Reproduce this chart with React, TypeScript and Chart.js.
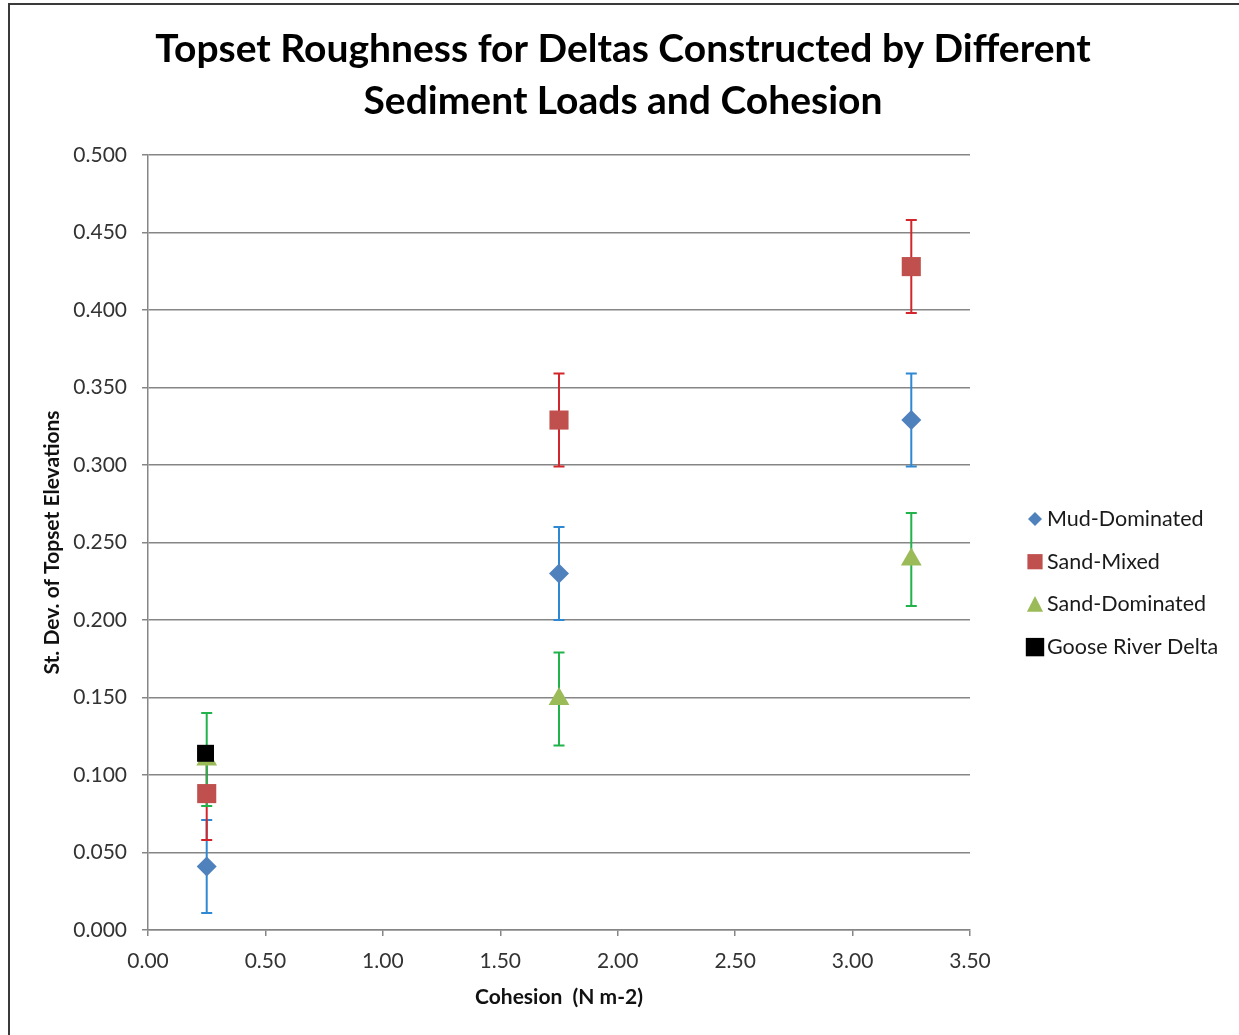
import React, { useEffect, useRef } from 'react';
import { Chart, registerables } from 'chart.js';

Chart.register(...registerables);

const titleLines = ['Topset Roughness for Deltas Constructed by Different', 'Sediment Loads and Cohesion'];
const xAxisTitle = 'Cohesion  (N m-2)';
const yAxisTitle = 'St. Dev. of Topset Elevations';

const seriesLabels = ['Mud-Dominated', 'Sand-Mixed', 'Sand-Dominated', 'Goose River Delta'];
const cohesion = [0.25, 1.75, 3.25];
const mudValues = [0.041, 0.230, 0.329];
const mudErrors = [0.03, 0.03, 0.03];
const sandMixedValues = [0.088, 0.329, 0.428];
const sandMixedErrors = [0.03, 0.03, 0.03];
const sandDominatedValues = [0.110, 0.149, 0.239];
const sandDominatedErrors = [0.03, 0.03, 0.03];
const gooseCohesion = [0.245];
const gooseValues = [0.114];

const xMin = 0;
const xMax = 3.5;
const xStep = 0.5;
const yMin = 0;
const yMax = 0.5;
const yStep = 0.05;

const markerColors = ['#4f81bd', '#c0504d', '#9bbb59', '#000000'];
const errorColors = ['#2f88d2', '#d3262c', '#22b24c', ''];
const pointStyles = ['rectRot', 'rect', 'triangle', 'rect'];
const pointRadii = [10, 13.5, 12, 12];

const FONT = 'Lato, "Open Sans", sans-serif';

const toPoints = (xs: number[], ys: number[]) => xs.map((x, i) => ({ x, y: ys[i] }));

const errorBarPlugin = {
  id: 'errorBars',
  beforeDatasetsDraw(chart: any) {
    const errs = [mudErrors, sandMixedErrors, sandDominatedErrors, null];
    const ctx = chart.ctx;
    const xs = chart.scales.x;
    const ys = chart.scales.y;
    ctx.save();
    chart.data.datasets.forEach((ds: any, di: number) => {
      const e = errs[di];
      if (!e) return;
      ctx.strokeStyle = errorColors[di];
      ctx.lineWidth = 2;
      ds.data.forEach((p: any, i: number) => {
        const px = xs.getPixelForValue(p.x);
        const top = ys.getPixelForValue(p.y + e[i]);
        const bot = ys.getPixelForValue(p.y - e[i]);
        const cap = 5.5;
        ctx.beginPath();
        ctx.moveTo(px, top);
        ctx.lineTo(px, bot);
        ctx.moveTo(px - cap, top);
        ctx.lineTo(px + cap, top);
        ctx.moveTo(px - cap, bot);
        ctx.lineTo(px + cap, bot);
        ctx.stroke();
      });
    });
    ctx.restore();
  },
};

const framePlugin = {
  id: 'frameAndText',
  beforeDraw(chart: any) {
    const ctx = chart.ctx;
    ctx.save();
    ctx.fillStyle = '#ffffff';
    ctx.fillRect(0, 0, chart.width, chart.height);
    ctx.strokeStyle = '#3a3a3a';
    ctx.lineWidth = 2;
    ctx.beginPath();
    ctx.moveTo(9, chart.height + 5);
    ctx.lineTo(9, 4);
    ctx.lineTo(chart.width + 5, 4);
    ctx.stroke();
    ctx.restore();
  },
  afterDraw(chart: any) {
    const ctx = chart.ctx;
    ctx.save();
    // title
    ctx.fillStyle = '#000000';
    ctx.font = `bold 39px ${FONT}`;
    ctx.textAlign = 'center';
    ctx.textBaseline = 'middle';
    ctx.fillText(titleLines[0], 623, 49);
    ctx.fillText(titleLines[1], 623, 101);
    // legend
    const lx = 1035;
    const ly0 = 519;
    const gap = 42.7;
    ctx.font = `21.5px ${FONT}`;
    ctx.textAlign = 'left';
    ctx.textBaseline = 'middle';
    const sizes = [7, 9.5, 8.5, 11.5];
    seriesLabels.forEach((label, i) => {
      const y = ly0 + i * gap;
      ctx.fillStyle = markerColors[i];
      ctx.beginPath();
      const s = sizes[i];
      if (pointStyles[i] === 'rectRot') {
        ctx.moveTo(lx - s, y);
        ctx.lineTo(lx, y - s);
        ctx.lineTo(lx + s, y);
        ctx.lineTo(lx, y + s);
        ctx.closePath();
      } else if (pointStyles[i] === 'triangle') {
        ctx.moveTo(lx, y - s);
        ctx.lineTo(lx + s * 0.95, y + s * 0.85);
        ctx.lineTo(lx - s * 0.95, y + s * 0.85);
        ctx.closePath();
      } else {
        const h = s * 0.8;
        ctx.rect(lx - h, y - h, 2 * h, 2 * h);
      }
      ctx.fill();
      ctx.fillStyle = '#1a1a1a';
      ctx.fillText(label, 1047, y);
    });
    ctx.restore();
  },
};

export default function App() {
  const canvasRef = useRef<HTMLCanvasElement | null>(null);

  useEffect(() => {
    if (!canvasRef.current) return;
    const datasets = [
      toPoints(cohesion, mudValues),
      toPoints(cohesion, sandMixedValues),
      toPoints(cohesion, sandDominatedValues),
      toPoints(gooseCohesion, gooseValues),
    ].map((data, i) => ({
      label: seriesLabels[i],
      data,
      showLine: false,
      pointStyle: pointStyles[i],
      pointRadius: pointRadii[i],
      pointHoverRadius: pointRadii[i],
      backgroundColor: markerColors[i],
      borderColor: markerColors[i],
      pointBorderWidth: 0,
      order: 3 - i,
    }));

    const chart = new Chart(canvasRef.current, {
      type: 'scatter',
      data: { datasets },
      plugins: [framePlugin, errorBarPlugin],
      options: {
        responsive: false,
        animation: false,
        events: [],
        layout: { padding: { left: 0, top: 155, right: 269, bottom: 0 } },
        plugins: {
          legend: { display: false },
          title: { display: false },
          tooltip: { enabled: false },
        },
        scales: {
          x: {
            type: 'linear',
            min: xMin,
            max: xMax,
            afterFit: (s: any) => { s.height = 105; },
            ticks: {
              stepSize: xStep,
              callback: (v: any) => Number(v).toFixed(2),
              font: { family: FONT, size: 21 },
              color: '#333333',
              padding: 13,
              maxRotation: 0,
            },
            grid: { drawOnChartArea: false, drawTicks: true, tickLength: 6, color: '#868686', lineWidth: 1.5 },
            border: { display: true, color: '#868686', width: 1.5 },
            title: {
              display: true,
              text: xAxisTitle,
              font: { family: FONT, size: 21, weight: 'bold', lineHeight: 1.2 },
              color: '#111111',
              padding: { top: 0, bottom: 25 },
            },
          },
          y: {
            type: 'linear',
            min: yMin,
            max: yMax,
            afterFit: (s: any) => { s.width = 148; },
            ticks: {
              stepSize: yStep,
              callback: (v: any) => Number(v).toFixed(3),
              font: { family: FONT, size: 21 },
              color: '#333333',
              padding: 15,
            },
            grid: { color: '#868686', lineWidth: 1.5, tickLength: 6 },
            border: { display: true, color: '#868686', width: 1.5 },
            title: {
              display: true,
              text: yAxisTitle,
              font: { family: FONT, size: 21, weight: 'bold', lineHeight: 1.2 },
              color: '#111111',
              padding: { top: 40, bottom: 0 },
            },
          },
        },
      } as any,
    });
    return () => chart.destroy();
  }, []);

  return (
    <div style={{ position: 'absolute', left: 0, top: 0, width: 1239, height: 1035 }}>
      <canvas ref={canvasRef} width={1239} height={1035} />
    </div>
  );
}
